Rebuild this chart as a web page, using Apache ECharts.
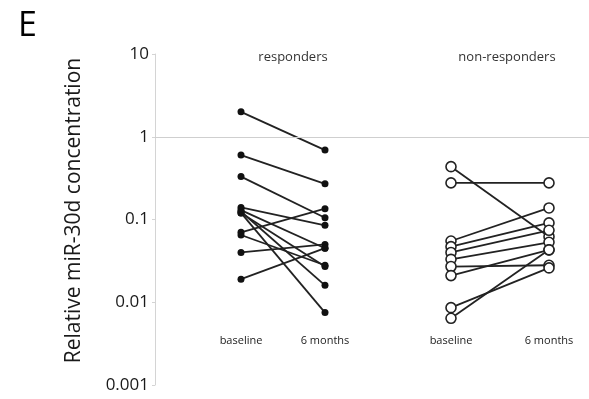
<!DOCTYPE html>
<html><head><meta charset="utf-8">
<script src="https://cdn.jsdelivr.net/npm/echarts@6/dist/echarts.min.js"></script>
<style>html,body{margin:0;padding:0;background:#fff}#c{width:589px;height:399px}</style>
</head><body><div id="c"></div>
<script>
const timepoints = ['baseline', '6 months'];
const groupTitles = ['responders', 'non-responders'];
const yTicks = [0.001, 0.01, 0.1, 1, 10];
const refLineValue = 1;
// responders: baseline -> 6 months (paired)
const respBaseline = [2.0, 0.6, 0.33, 0.07, 0.14, 0.13, 0.12, 0.125, 0.12, 0.04, 0.019, 0.065];
const resp6m       = [0.69, 0.27, 0.105, 0.135, 0.085, 0.045, 0.027, 0.016, 0.0075, 0.05, 0.045, 0.028];
// non-responders
const nonBaseline = [0.435, 0.277, 0.055, 0.047, 0.04, 0.033, 0.027, 0.021, 0.0086, 0.0064];
const non6m       = [0.062, 0.277, 0.138, 0.091, 0.074, 0.053, 0.028, 0.043, 0.026, 0.043];

const chart = echarts.init(document.getElementById('c'), null, {renderer: 'canvas'});
const TOP = 54, BOTTOM = 14;
const FONT = "'Open Sans', 'DejaVu Sans', sans-serif";
const yLog = (show) => ({
  type: 'log', logBase: 10, min: yTicks[0], max: yTicks[yTicks.length - 1],
  show: show,
  axisLine: {show: show, lineStyle: {color: '#d4d4d4', width: 1}},
  axisTick: {show: show, length: 3, lineStyle: {color: '#d4d4d4'}},
  axisLabel: {show: show, fontSize: 17, color: '#1a1a1a', fontFamily: FONT, margin: 6,
    formatter: v => String(+v.toPrecision(3))},
  splitLine: {show: false},
  name: show ? 'Relative miR-30d concentration' : '',
  nameLocation: 'middle', nameGap: 70, nameRotate: 90,
  nameTextStyle: {fontSize: 21, color: '#1a1a1a', fontFamily: FONT, padding: [0, 0, 0, 18]}
});
const xCat = (gi) => ({
  type: 'category', gridIndex: gi, data: timepoints, boundaryGap: false,
  axisLine: {show: false}, axisTick: {show: false}, offset: -50,
  axisLabel: {fontSize: 11, color: '#222', fontFamily: FONT, margin: 0}
});
function pairs(b, m, gi, filled) {
  return b.map((v, i) => ({
    type: 'line', xAxisIndex: gi, yAxisIndex: gi, data: [v, m[i]],
    symbol: 'circle', symbolSize: filled ? 7 : 10, showSymbol: true,
    itemStyle: filled ? {color: '#111', borderColor: '#111', borderWidth: 0}
                      : {color: '#fff', borderColor: '#222', borderWidth: 1.6},
    lineStyle: {color: '#222', width: 1.8},
    silent: true, animation: false, z: 3
  }));
}
const option = {
  animation: false,
  grid: [
    {left: 155, right: 0, top: TOP, bottom: BOTTOM},
    {left: 241, width: 84, top: TOP, bottom: BOTTOM},
    {left: 451, width: 98, top: TOP, bottom: BOTTOM}
  ],
  title: [
    {text: 'E', left: 13, top: 4, textStyle: {fontSize: 34, fontWeight: 'normal', color: '#000', fontFamily: FONT}},
    {text: groupTitles[0], left: 288, top: 46, textAlign: 'center', textStyle: {fontSize: 13, fontWeight: 'normal', color: '#333', fontFamily: FONT}},
    {text: groupTitles[1], left: 502, top: 46, textAlign: 'center', textStyle: {fontSize: 13, fontWeight: 'normal', color: '#333', fontFamily: FONT}}
  ],
  xAxis: [
    {type: 'value', gridIndex: 0, min: 0, max: 1, show: false},
    xCat(1), xCat(2)
  ],
  yAxis: [
    Object.assign(yLog(true), {gridIndex: 0}),
    Object.assign(yLog(false), {gridIndex: 1}),
    Object.assign(yLog(false), {gridIndex: 2})
  ],
  series: [
    {type: 'line', xAxisIndex: 0, yAxisIndex: 0, data: [], silent: true,
     markLine: {symbol: 'none', silent: true, label: {show: false},
       lineStyle: {color: '#cfcfcf', type: 'solid', width: 1}, data: [{yAxis: refLineValue}]}}
  ].concat(pairs(respBaseline, resp6m, 1, true), pairs(nonBaseline, non6m, 2, false))
};
chart.setOption(option);
</script></body></html>
